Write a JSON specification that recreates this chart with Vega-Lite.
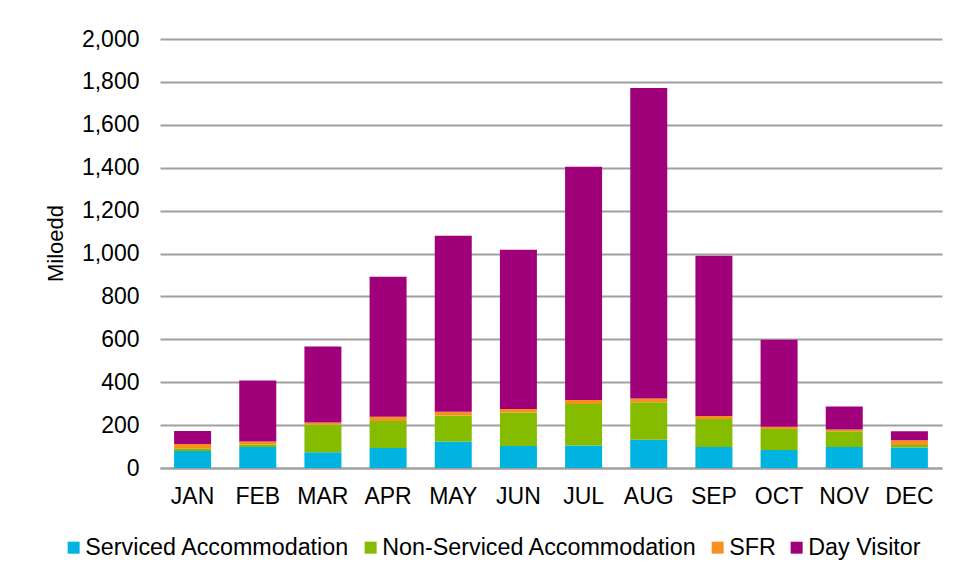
{
  "$schema": "https://vega.github.io/schema/vega-lite/v6.json",
  "width": 782,
  "height": 429,
  "autosize": "none",
  "padding": {"left": 160, "top": 39, "right": 16, "bottom": 111},
  "background": "white",
  "data": {"values": [
    {"month":"JAN","category":"Serviced Accommodation","value":79},
    {"month":"JAN","category":"Non-Serviced Accommodation","value":11},
    {"month":"JAN","category":"SFR","value":22},
    {"month":"JAN","category":"Day Visitor","value":60},
    {"month":"FEB","category":"Serviced Accommodation","value":98},
    {"month":"FEB","category":"Non-Serviced Accommodation","value":12},
    {"month":"FEB","category":"SFR","value":13},
    {"month":"FEB","category":"Day Visitor","value":285},
    {"month":"MAR","category":"Serviced Accommodation","value":73},
    {"month":"MAR","category":"Non-Serviced Accommodation","value":129},
    {"month":"MAR","category":"SFR","value":10},
    {"month":"MAR","category":"Day Visitor","value":355},
    {"month":"APR","category":"Serviced Accommodation","value":93},
    {"month":"APR","category":"Non-Serviced Accommodation","value":126},
    {"month":"APR","category":"SFR","value":20},
    {"month":"APR","category":"Day Visitor","value":653},
    {"month":"MAY","category":"Serviced Accommodation","value":124},
    {"month":"MAY","category":"Non-Serviced Accommodation","value":121},
    {"month":"MAY","category":"SFR","value":17},
    {"month":"MAY","category":"Day Visitor","value":821},
    {"month":"JUN","category":"Serviced Accommodation","value":102},
    {"month":"JUN","category":"Non-Serviced Accommodation","value":157},
    {"month":"JUN","category":"SFR","value":16},
    {"month":"JUN","category":"Day Visitor","value":742},
    {"month":"JUL","category":"Serviced Accommodation","value":105},
    {"month":"JUL","category":"Non-Serviced Accommodation","value":193},
    {"month":"JUL","category":"SFR","value":19},
    {"month":"JUL","category":"Day Visitor","value":1087},
    {"month":"AUG","category":"Serviced Accommodation","value":132},
    {"month":"AUG","category":"Non-Serviced Accommodation","value":174},
    {"month":"AUG","category":"SFR","value":18},
    {"month":"AUG","category":"Day Visitor","value":1448},
    {"month":"SEP","category":"Serviced Accommodation","value":98},
    {"month":"SEP","category":"Non-Serviced Accommodation","value":130},
    {"month":"SEP","category":"SFR","value":14},
    {"month":"SEP","category":"Day Visitor","value":747},
    {"month":"OCT","category":"Serviced Accommodation","value":84},
    {"month":"OCT","category":"Non-Serviced Accommodation","value":98},
    {"month":"OCT","category":"SFR","value":10},
    {"month":"OCT","category":"Day Visitor","value":406},
    {"month":"NOV","category":"Serviced Accommodation","value":98},
    {"month":"NOV","category":"Non-Serviced Accommodation","value":73},
    {"month":"NOV","category":"SFR","value":9},
    {"month":"NOV","category":"Day Visitor","value":107},
    {"month":"DEC","category":"Serviced Accommodation","value":96},
    {"month":"DEC","category":"Non-Serviced Accommodation","value":11},
    {"month":"DEC","category":"SFR","value":22},
    {"month":"DEC","category":"Day Visitor","value":42}
  ]},
  "transform": [
    {"calculate": "indexof(['Serviced Accommodation','Non-Serviced Accommodation','SFR','Day Visitor'], datum.category)", "as": "stackIndex"}
  ],
  "mark": {"type": "bar", "width": 37},
  "encoding": {
    "x": {
      "field": "month", "type": "nominal",
      "sort": ["JAN","FEB","MAR","APR","MAY","JUN","JUL","AUG","SEP","OCT","NOV","DEC"],
      "scale": {"paddingInner": 0.43, "paddingOuter": 0.215},
      "axis": {"title": null, "labelAngle": 0, "ticks": false, "domain": true, "domainColor": "#a0a0a0", "domainWidth": 2, "labelPadding": 17, "labelFontSize": 23, "labelColor": "#000", "labelFont": "Liberation Sans"}
    },
    "y": {
      "field": "value", "type": "quantitative", "stack": "zero",
      "scale": {"domain": [0, 2000]},
      "axis": {"title": "Miloedd", "values": [0,200,400,600,800,1000,1200,1400,1600,1800,2000], "labelOverlap": false, "format": ",d", "ticks": false, "domain": false, "labelPadding": 21, "labelFontSize": 23, "labelColor": "#000", "labelFont": "Liberation Sans", "titleFont": "Liberation Sans", "titleFontSize": 22, "titleFontWeight": "normal", "titleColor": "#000", "titlePadding": 14, "titleY": 204, "gridColor": "#a0a0a0", "gridWidth": 2}
    },
    "color": {
      "field": "category", "type": "nominal",
      "sort": ["Serviced Accommodation","Non-Serviced Accommodation","SFR","Day Visitor"],
      "scale": {"domain": ["Serviced Accommodation","Non-Serviced Accommodation","SFR","Day Visitor"], "range": ["#00B3E1","#86BC00","#F7901E","#A0007A"]},
      "legend": {"title": null, "orient": "none", "direction": "horizontal", "legendX": -98, "legendY": 497, "symbolType": "square", "symbolSize": 144, "symbolStrokeWidth": 0, "labelFontSize": 23.3, "labelLimit": 400, "labelFont": "Liberation Sans", "labelColor": "#000", "labelOffset": 0, "columnPadding": 9}
    },
    "order": {"field": "stackIndex", "type": "quantitative", "sort": "ascending"}
  },
  "config": {"view": {"stroke": null}}
}
